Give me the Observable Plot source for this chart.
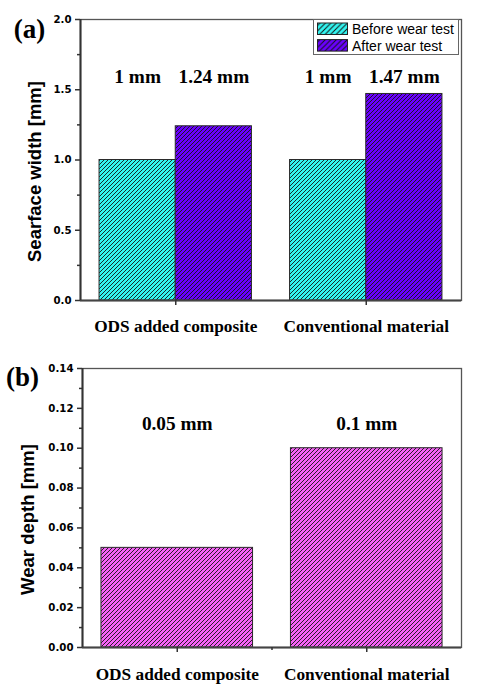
<!DOCTYPE html>
<html>
<head>
<meta charset="utf-8">
<script src="https://cdn.jsdelivr.net/npm/d3@7"></script>
<script src="https://cdn.jsdelivr.net/npm/@observablehq/plot@0.6"></script>
<style>
  body { margin: 0; background: #fff; }
  #wrap { position: relative; width: 478px; height: 694px; overflow: hidden; background: #fff; }
  #wrap svg.chart { display: block; }
  #wrap g[aria-label="x-axis tick label"] { font: bold 17.3px "Liberation Serif", "Times New Roman", serif; fill: #000; }
  #wrap g[aria-label="y-axis tick label"] { font: bold 10.2px "DejaVu Sans", sans-serif; fill: #000; }
  #legend { position: absolute; left: 313px; top: 19px; }
</style>
</head>
<body>
<div id="wrap"></div>
<script>
// ---------- data ----------
const categories = ["ODS added composite", "Conventional material"];
const seriesNames = ["Before wear test", "After wear test"];
const widthBefore = [1.0, 1.0];
const widthAfter = [1.24, 1.47];
const widthBeforeLabels = ["1 mm", "1 mm"];
const widthAfterLabels = ["1.24 mm", "1.47 mm"];
const wearDepth = [0.05, 0.10];
const wearDepthLabels = ["0.05 mm", "0.1 mm"];
const yTicksA = [0, 0.5, 1.0, 1.5, 2.0];
const yMinorA = [0.25, 0.75, 1.25, 1.75];
const yTicksB = [0, 0.02, 0.04, 0.06, 0.08, 0.10, 0.12, 0.14];
const yMinorB = [0.01, 0.03, 0.05, 0.07, 0.09, 0.11, 0.13];
const panelLabels = ["(a)", "(b)"];
const yTitles = ["Searface width [mm]", "Wear depth [mm]"];

// ---------- styles ----------
const seriesColors = ["#33f5f0", "#6a00ff"];
const depthColor = "#f562f5";
const serif = "Liberation Serif";
const sans = "Liberation Sans";

function addPatterns(svg, list, size, width) {
  const defs = d3.select(svg).insert("defs", ":first-child");
  const s = size;
  for (const {id, color} of list) {
    const p = defs.append("pattern").attr("id", id)
      .attr("patternUnits", "userSpaceOnUse").attr("width", s).attr("height", s);
    p.append("rect").attr("width", s).attr("height", s).attr("fill", color);
    p.append("path")
      .attr("d", `M${-s/4},${s/4} l${s/2},${-s/2} M0,${s} l${s},${-s} M${3*s/4},${5*s/4} l${s/2},${-s/2}`)
      .attr("stroke", "#141414").attr("stroke-width", width);
  }
}

const wrap = document.getElementById("wrap");

// ---------- panel (a) ----------
const rowsA = categories.flatMap((c, i) => [
  {ci: i, sj: 0, value: widthBefore[i], label: widthBeforeLabels[i]},
  {ci: i, sj: 1, value: widthAfter[i], label: widthAfterLabels[i]}
]);
const fillsA = ["url(#hatchA0)", "url(#hatchA1)"];

const chartA = Plot.plot({
  className: "chart",
  width: 478, height: 340,
  marginTop: 19, marginRight: 17, marginBottom: 40, marginLeft: 80,
  style: {fontFamily: "DejaVu Sans", fontSize: "10px", fontWeight: "bold", color: "#333", background: "#fff", overflow: "visible"},
  x: {type: "linear", domain: [0, 2]},
  y: {domain: [0, 2]},
  color: {type: "identity"},
  marks: [
    Plot.frame({stroke: "#555", strokeWidth: 1.3}),
    Plot.rectY(rowsA, {
      x1: d => d.ci + 0.1 + 0.4 * d.sj,
      x2: d => d.ci + 0.5 + 0.4 * d.sj,
      y1: 0, y2: "value",
      fill: d => fillsA[d.sj], stroke: "#2a2a2a", strokeWidth: 1
    }),
    Plot.ruleY([0], {stroke: "#444", strokeWidth: 2}),
    Plot.ruleX([0], {stroke: "#333", strokeWidth: 2}),
    Plot.axisY({ticks: yTicksA, tickSize: 5, tickPadding: 4, tickFormat: d3.format(".1f"), label: null, stroke: "#333", strokeWidth: 1.5}),
    Plot.axisY({ticks: yMinorA, tickSize: 3, tickFormat: () => "", label: null, stroke: "#333", strokeWidth: 1.5}),
    Plot.axisX({ticks: [0.5, 1.5], tickSize: 5, tickPadding: 14, tickFormat: d => categories[Math.floor(d)], label: null, stroke: "#333", strokeWidth: 1.5}),
    Plot.text(rowsA, {
      x: d => d.ci + 0.3 + 0.4 * d.sj,
      y: () => 1.59,
      text: "label",
      fontFamily: serif, fontSize: 19.3, fontWeight: "bold", fill: "#000"
    }),
    Plot.text([yTitles[0]], {
      text: d => d, frameAnchor: "left", textAnchor: "middle", lineAnchor: "middle",
      dx: -45, dy: 11.5, rotate: -90,
      fontFamily: sans, fontSize: 18.5, fontWeight: "bold", fill: "#000"
    }),
    Plot.text([panelLabels[0]], {
      text: d => d, frameAnchor: "top-left", textAnchor: "middle", lineAnchor: "middle",
      dx: -51, dy: 9.5,
      fontFamily: serif, fontSize: 27, fontWeight: "bold", fill: "#000"
    })
  ]
});
addPatterns(chartA, [{id: "hatchA0", color: seriesColors[0]}, {id: "hatchA1", color: seriesColors[1]}], 4, 0.9);
wrap.appendChild(chartA);

// ---------- panel (b) ----------
const rowsB = categories.map((c, i) => ({ci: i, value: wearDepth[i], label: wearDepthLabels[i]}));

const chartB = Plot.plot({
  className: "chart",
  width: 478, height: 354,
  marginTop: 28, marginRight: 17, marginBottom: 47, marginLeft: 82,
  style: {fontFamily: "DejaVu Sans", fontSize: "10px", fontWeight: "bold", color: "#333", background: "#fff", overflow: "visible"},
  x: {type: "linear", domain: [0, 2]},
  y: {domain: [0, 0.14]},
  marks: [
    Plot.frame({stroke: "#555", strokeWidth: 1.3}),
    Plot.rectY(rowsB, {
      x1: d => d.ci + 0.1, x2: d => d.ci + 0.9,
      y1: 0, y2: "value",
      fill: "url(#hatchB0)", stroke: "#2a2a2a", strokeWidth: 1
    }),
    Plot.ruleY([0], {stroke: "#444", strokeWidth: 2}),
    Plot.ruleX([0], {stroke: "#333", strokeWidth: 2}),
    Plot.axisY({ticks: yTicksB, tickSize: 5, tickPadding: 4, tickFormat: d3.format(".2f"), label: null, stroke: "#333", strokeWidth: 1.5}),
    Plot.axisY({ticks: yMinorB, tickSize: 3, tickFormat: () => "", label: null, stroke: "#333", strokeWidth: 1.5}),
    Plot.axisX({ticks: [0.5, 1.5], tickSize: 5, tickPadding: 15, tickFormat: d => categories[Math.floor(d)], label: null, stroke: "#333", strokeWidth: 1.5}),
    Plot.axisX({ticks: [1], tickSize: 3, tickFormat: () => "", label: null, stroke: "#333", strokeWidth: 1.5}),
    Plot.text(rowsB, {
      x: d => d.ci + 0.5,
      y: () => 0.112,
      text: "label",
      fontFamily: serif, fontSize: 19.3, fontWeight: "bold", fill: "#000"
    }),
    Plot.text([yTitles[1]], {
      text: d => d, frameAnchor: "left", textAnchor: "middle", lineAnchor: "middle",
      dx: -54.5, dy: 11.5, rotate: -90,
      fontFamily: sans, fontSize: 18.5, fontWeight: "bold", fill: "#000"
    }),
    Plot.text([panelLabels[1]], {
      text: d => d, frameAnchor: "top-left", textAnchor: "middle", lineAnchor: "middle",
      dx: -60, dy: 9,
      fontFamily: serif, fontSize: 27, fontWeight: "bold", fill: "#000"
    })
  ]
});
addPatterns(chartB, [{id: "hatchB0", color: depthColor}], 4, 0.9);
wrap.appendChild(chartB);

// ---------- legend (inside panel a, top-right) ----------
const lg = d3.create("svg").attr("id", "legend").attr("width", 147).attr("height", 37);
const lgNode = lg.node();
addPatterns(lgNode, [{id: "lg0", color: seriesColors[0]}, {id: "lg1", color: seriesColors[1]}], 5.5, 1);
lg.append("rect").attr("x", 0.5).attr("y", 0.5).attr("width", 145).attr("height", 35)
  .attr("fill", "#fff").attr("stroke", "#666").attr("stroke-width", 1);
seriesNames.forEach((name, i) => {
  lg.append("rect").attr("x", 4.5).attr("y", 4 + i * 16.6).attr("width", 30).attr("height", 11.5)
    .attr("fill", `url(#lg${i})`).attr("stroke", "#222").attr("stroke-width", 1);
  lg.append("text").attr("x", 39).attr("y", 15 + i * 16.6)
    .attr("font-family", sans).attr("font-size", 14).attr("fill", "#000").text(name);
});
wrap.appendChild(lgNode);
</script>
</body>
</html>
